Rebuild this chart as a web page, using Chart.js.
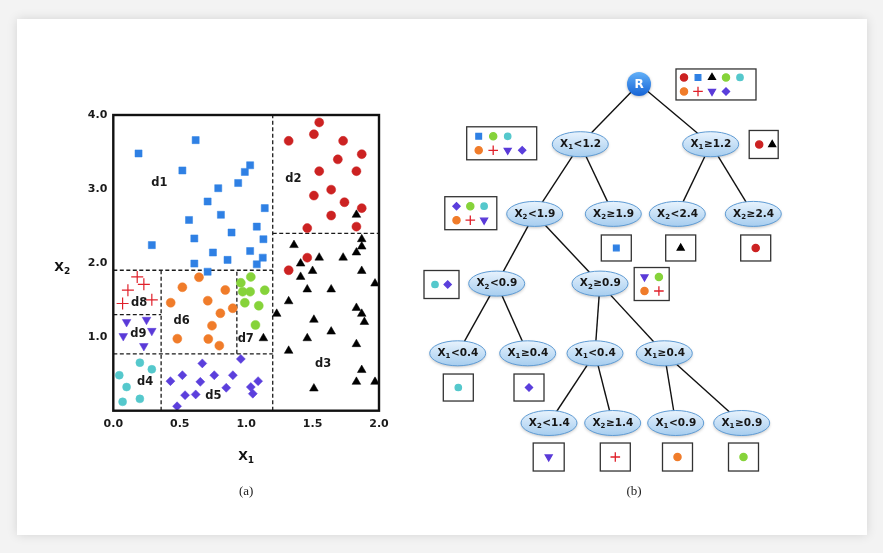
<!DOCTYPE html>
<html lang="en">
<head>
<meta charset="UTF-8">
<script src="https://cdn.jsdelivr.net/npm/chart.js"></script>
<title>Decision tree partition</title>
<style>
    body {
        margin: 0;
        background: #f3f3f3;
        width: 883px;
        height: 553px;
        overflow: hidden;
        position: relative;
    }
    .card {
        position: absolute;
        left: 17px; top: 19px;
        width: 850px; height: 516px;
        background: #fff;
        box-shadow: 0 0 10px rgba(0,0,0,0.13);
    }
    canvas {
        position: absolute;
        left: 0; top: 0;
    }
</style>
</head>
<body>
<div class="card"></div>
<canvas id="scatterChart" width="883" height="553"></canvas>
<canvas id="treeChart" width="883" height="553"></canvas>
<script>
    // ---- panel (a): points per class (x1, x2) ----
    const blueSquares = [[0.19,3.48],[0.62,3.66],[0.52,3.25],[1.03,3.32],[0.99,3.23],[0.94,3.08],[0.79,3.01],
        [1.14,2.74],[0.71,2.83],[0.81,2.65],[0.57,2.58],[1.08,2.49],[0.89,2.41],[0.61,2.33],[1.13,2.32],
        [0.29,2.24],[0.75,2.14],[1.03,2.16],[1.125,2.07],[0.86,2.04],[0.61,1.99],[1.08,1.98],[0.71,1.88]];
    const redCircles = [[1.55,3.90],[1.51,3.74],[1.32,3.65],[1.73,3.65],[1.87,3.47],[1.69,3.40],[1.55,3.24],
        [1.83,3.24],[1.64,2.99],[1.51,2.91],[1.74,2.82],[1.87,2.74],[1.64,2.64],[1.46,2.47],[1.83,2.49],
        [1.46,2.07],[1.32,1.90]];
    const blackTriangles = [[1.83,2.65],[1.87,2.32],[1.87,2.22],[1.83,2.14],[1.36,2.24],[1.55,2.07],[1.73,2.07],
        [1.41,1.99],[1.50,1.89],[1.41,1.81],[1.87,1.89],[1.46,1.64],[1.64,1.64],[1.97,1.72],[1.32,1.48],
        [1.23,1.31],[1.83,1.39],[1.87,1.31],[1.51,1.23],[1.89,1.20],[1.64,1.07],[1.46,0.98],[1.32,0.81],
        [1.83,0.90],[1.87,0.55],[1.83,0.39],[1.97,0.39],[1.51,0.30],[1.13,0.98]];
    const greenDots = [[1.035,1.81],[0.96,1.73],[0.974,1.61],[1.03,1.61],[1.14,1.63],[0.99,1.46],[1.095,1.42],[1.07,1.16]];
    const orangeDots = [[0.645,1.805],[0.52,1.67],[0.843,1.633],[0.432,1.461],[0.711,1.488],[0.899,1.386],
        [0.806,1.318],[0.743,1.15],[0.715,0.97],[0.482,0.974],[0.798,0.88]];
    const redCrosses = [[0.18,1.81],[0.23,1.71],[0.11,1.63],[0.07,1.45],[0.29,1.50]];
    const purpleTriangles = [[0.10,1.20],[0.25,1.23],[0.075,1.01],[0.29,1.08],[0.23,0.875]];
    const cyanDots = [[0.20,0.65],[0.29,0.56],[0.045,0.48],[0.10,0.32],[0.20,0.16],[0.07,0.12]];
    const purpleDiamonds = [[0.96,0.70],[0.67,0.64],[0.52,0.48],[0.76,0.48],[0.90,0.48],[0.43,0.40],[0.655,0.39],
        [1.09,0.40],[0.85,0.31],[1.035,0.32],[0.54,0.21],[0.62,0.22],[1.05,0.23],[0.48,0.06]];

    // split boundaries (dashed), as segments [[x1,y1],[x2,y2]]
    const splitLines = [
        [[1.2,0],[1.2,4]],
        [[1.2,2.4],[2,2.4]],
        [[0,1.9],[1.2,1.9]],
        [[0,0.77],[1.2,0.77]],
        [[0.36,0],[0.36,1.9]],
        [[0.93,0.77],[0.93,1.9]],
        [[0,1.3],[0.36,1.3]]
    ];
    const regionNames = ['d1','d2','d3','d4','d5','d6','d7','d8','d9'];
    const regionX = [0.346,1.355,1.58,0.24,0.753,0.515,0.997,0.194,0.188];
    const regionY = [3.08,3.135,0.63,0.385,0.2,1.218,0.97,1.453,1.038];
    const xTicks = [0, 0.5, 1.0, 1.5, 2.0];
    const yTicks = [1.0, 2.0, 3.0, 4.0];

    // ---- panel (b): tree nodes (position unit, depth) ----
    const nodeVar = [0,1,1,2,2,2,2,2,2,1,1,1,1,2,2,1,1];
    const nodeOp  = ['','<','≥','<','≥','<','≥','<','≥','<','≥','<','≥','<','≥','<','≥'];
    const nodeVal = [0,1.2,1.2,1.9,1.9,2.4,2.4,0.9,0.9,0.4,0.4,0.4,0.4,1.4,1.4,0.9,0.9];
    const nodeX = [23.9,18.03,31.07,13.47,21.33,27.73,35.33,9.67,20.0,5.77,12.77,19.5,26.43,14.9,21.27,27.57,34.17];
    const nodeDepth = [0.136,1,1,2,2,2,2,3,3,4,4,4,4,5,5,5,5];
    const nodeParent = [-1,0,0,1,1,2,2,3,3,7,7,8,8,11,11,12,12];

    // class boxes next to / under nodes
    const boxX = [31.6,10.17,36.37,7.08,21.63,28.07,35.57,4.15,25.17,5.83,12.9,14.87,21.53,27.75,34.35];
    const boxDepth = [0.143,0.987,1.004,1.99,2.489,2.489,2.489,3.013,3.006,4.491,4.491,5.488,5.488,5.488,5.488];
    const boxClasses = [
        [['red','blue','black','green','cyan'],['orange','cross','purple','diamond']],
        [['blue','green','cyan'],['orange','cross','purple','diamond']],
        [['red','black']],
        [['diamond','green','cyan'],['orange','cross','purple']],
        [['blue']],[['black']],[['red']],
        [['cyan','diamond']],
        [['purple','green'],['orange','cross']],
        [['cyan']],[['diamond']],
        [['purple']],[['cross']],[['orange']],[['green']]
    ];

    // styles
    const classStyle = {
        blue:    {pointStyle:'rect', color:'#2f80e4', radius:5, rotation:0},
        red:     {pointStyle:'circle', color:'#cc2222', radius:4.5, rotation:0},
        black:   {pointStyle:'triangle', color:'#000000', radius:5, rotation:0},
        green:   {pointStyle:'circle', color:'#86d33a', radius:4.5, rotation:0},
        cyan:    {pointStyle:'circle', color:'#55c8cc', radius:4, rotation:0},
        orange:  {pointStyle:'circle', color:'#f07c2a', radius:4.5, rotation:0},
        cross:   {pointStyle:'cross', color:'#e0202a', radius:6, rotation:0, borderWidth:1.2},
        purple:  {pointStyle:'triangle', color:'#5a3ad8', radius:5, rotation:180},
        diamond: {pointStyle:'rectRot', color:'#5b3fdc', radius:4.5, rotation:0}
    };
    const boxSpec = [
        {w:80,h:31,pad:8,dx:14},{w:70,h:33,pad:12,dx:14.5},{w:29,h:28,pad:10,dx:13},{w:52,h:33,pad:11.7,dx:13.8},
        {w:30,h:26},{w:30,h:26},{w:30,h:26},{w:35,h:28,pad:11,dx:12.7},{w:35,h:33,pad:10.3,dx:14.4},
        {w:30,h:27},{w:30,h:27},{w:31,h:28},{w:30,h:28},{w:30,h:28},{w:30,h:28}
    ];
    const FONT = 'DejaVu Sans';

    function toPts(arr) { return arr.map(p => ({x: p[0], y: p[1]})); }

    function classDataset(pts, key) {
        const s = classStyle[key];
        return {
            data: toPts(pts),
            pointStyle: s.pointStyle,
            rotation: s.rotation,
            pointRadius: s.radius,
            backgroundColor: s.color,
            borderColor: s.color,
            borderWidth: s.borderWidth || 0.5,
            order: 0
        };
    }

    function drawSubLabel(ctx, base, sub, rest, cx, cy, size, color) {
        ctx.save();
        const big = 'bold ' + size + 'px "' + FONT + '"';
        const small = 'bold ' + Math.round(size * 0.7) + 'px "' + FONT + '"';
        ctx.font = big;
        const wb = ctx.measureText(base).width, wr = ctx.measureText(rest).width;
        ctx.font = small;
        const ws = ctx.measureText(sub).width;
        let x = cx - (wb + ws + wr) / 2;
        ctx.fillStyle = color;
        ctx.textBaseline = 'middle';
        ctx.textAlign = 'left';
        ctx.font = big; ctx.fillText(base, x, cy); x += wb;
        ctx.font = small; ctx.fillText(sub, x, cy + size * 0.32); x += ws + 0.5;
        ctx.font = big; ctx.fillText(rest, x, cy);
        ctx.restore();
    }

    const panelAPlugin = {
        id: 'panelA',
        afterDatasetsDraw(chart) {
            const ctx = chart.ctx, a = chart.chartArea;
            const xs = chart.scales.x, ys = chart.scales.y;
            ctx.save();
            ctx.strokeStyle = '#111';
            ctx.lineWidth = 2.4;
            ctx.strokeRect(a.left, a.top, a.right - a.left, a.bottom - a.top);
            ctx.fillStyle = '#1a1a1a';
            ctx.font = 'bold 11.5px "' + FONT + '"';
            ctx.textAlign = 'center';
            ctx.textBaseline = 'middle';
            regionNames.forEach((n, i) => {
                ctx.fillText(n, xs.getPixelForValue(regionX[i]), ys.getPixelForValue(regionY[i]));
            });
            ctx.restore();
        },
        afterDraw(chart) {
            const ctx = chart.ctx, a = chart.chartArea;
            drawSubLabel(ctx, 'X', '1', '', (a.left + a.right) / 2, a.bottom + 46, 12.5, '#111');
            drawSubLabel(ctx, 'X', '2', '', a.left - 51, (a.top + a.bottom) / 2 + 5, 12.5, '#111');
            ctx.save();
            ctx.fillStyle = '#222';
            ctx.font = '13px "Liberation Serif"';
            ctx.textAlign = 'center';
            ctx.textBaseline = 'middle';
            ctx.fillText('(a)', (a.left + a.right) / 2, 492);
            ctx.fillText('(b)', 634, 492);
            ctx.restore();
        }
    };

    const datasetsA = [
        classDataset(blueSquares, 'blue'),
        classDataset(redCircles, 'red'),
        classDataset(blackTriangles, 'black'),
        classDataset(greenDots, 'green'),
        classDataset(orangeDots, 'orange'),
        classDataset(redCrosses, 'cross'),
        classDataset(purpleTriangles, 'purple'),
        classDataset(cyanDots, 'cyan'),
        classDataset(purpleDiamonds, 'diamond')
    ];
    splitLines.forEach(seg => {
        datasetsA.push({
            data: toPts(seg),
            showLine: true,
            pointRadius: 0,
            borderColor: '#1a1a1a',
            borderWidth: 1.3,
            borderDash: [4, 2.5],
            order: 1
        });
    });

    const tickFont = {family: FONT, size: 11, weight: 'bold'};
    new Chart(document.getElementById('scatterChart'), {
        type: 'scatter',
        data: {datasets: datasetsA},
        options: {
            responsive: false,
            animation: false,
            events: [],
            layout: {padding: {left: 20, top: 115, right: 504, bottom: 82.3}},
            plugins: {legend: {display: false}, tooltip: {enabled: false}},
            scales: {
                x: {
                    type: 'linear', min: 0, max: 2,
                    grid: {display: false, drawTicks: false},
                    border: {display: false},
                    afterBuildTicks: s => { s.ticks = xTicks.map(v => ({value: v})); },
                    ticks: {callback: v => v.toFixed(1), font: tickFont, color: '#1a1a1a', padding: 7, maxRotation: 0},
                    afterFit: s => { s.height = 60; }
                },
                y: {
                    type: 'linear', min: 0, max: 4,
                    grid: {display: false, drawTicks: false},
                    border: {display: false},
                    afterBuildTicks: s => { s.ticks = yTicks.map(v => ({value: v})); },
                    ticks: {callback: v => v.toFixed(1), font: tickFont, color: '#1a1a1a', padding: 6},
                    afterFit: s => { s.width = 93.3; }
                }
            }
        },
        plugins: [panelAPlugin]
    });

    // ---- panel (b) ----
    const treePlugin = {
        id: 'tree',
        afterDatasetsDraw(chart) {
            const ctx = chart.ctx;
            const xs = chart.scales.x, ys = chart.scales.y;
            const H = Chart.helpers;
            // class boxes
            boxX.forEach((bx, i) => {
                const cx = xs.getPixelForValue(bx), cy = ys.getPixelForValue(boxDepth[i]);
                const sp = boxSpec[i], rows = boxClasses[i];
                const left = cx - sp.w / 2, top = cy - sp.h / 2;
                ctx.save();
                ctx.strokeStyle = '#333';
                ctx.lineWidth = 1.3;
                ctx.strokeRect(left, top, sp.w, sp.h);
                rows.forEach((row, r) => {
                    const ry = rows.length === 1 ? cy : cy + (r === 0 ? -7 : 7);
                    row.forEach((key, c) => {
                        const s = classStyle[key];
                        const px = sp.pad !== undefined ? left + sp.pad + c * sp.dx : cx;
                        ctx.fillStyle = s.color;
                        ctx.strokeStyle = s.color;
                        H.drawPoint(ctx, {
                            pointStyle: s.pointStyle,
                            rotation: s.rotation,
                            radius: s.radius * 0.8,
                            borderWidth: s.borderWidth || 0.5
                        }, px, ry);
                    });
                });
                ctx.restore();
            });
            // nodes
            nodeX.forEach((nx, i) => {
                const cx = xs.getPixelForValue(nx), cy = ys.getPixelForValue(nodeDepth[i]);
                ctx.save();
                if (nodeParent[i] < 0) {
                    const g = ctx.createLinearGradient(cx, cy - 12, cx, cy + 12);
                    g.addColorStop(0, '#62b0f8');
                    g.addColorStop(1, '#1664d6');
                    ctx.shadowColor = 'rgba(0,0,0,0.25)';
                    ctx.shadowBlur = 3;
                    ctx.shadowOffsetY = 1;
                    ctx.beginPath();
                    ctx.arc(cx, cy, 12, 0, Math.PI * 2);
                    ctx.fillStyle = g;
                    ctx.fill();
                    ctx.shadowColor = 'transparent';
                    ctx.fillStyle = '#fff';
                    ctx.font = 'bold 12px "' + FONT + '"';
                    ctx.textAlign = 'center';
                    ctx.textBaseline = 'middle';
                    ctx.fillText('R', cx, cy + 0.5);
                } else {
                    const rx = 28, ry = 12.5;
                    const g = ctx.createLinearGradient(cx, cy - ry, cx, cy + ry);
                    g.addColorStop(0, '#e8f3fd');
                    g.addColorStop(1, '#a6cdef');
                    ctx.shadowColor = 'rgba(0,0,0,0.22)';
                    ctx.shadowBlur = 3;
                    ctx.shadowOffsetY = 1.5;
                    ctx.beginPath();
                    ctx.ellipse(cx, cy, rx, ry, 0, 0, Math.PI * 2);
                    ctx.fillStyle = g;
                    ctx.fill();
                    ctx.shadowColor = 'transparent';
                    ctx.strokeStyle = '#5e9bd4';
                    ctx.lineWidth = 1;
                    ctx.stroke();
                    drawSubLabel(ctx, 'X', String(nodeVar[i]), nodeOp[i] + nodeVal[i].toFixed(1), cx, cy, 10.5, '#151515');
                }
                ctx.restore();
            });
        }
    };

    const edgeSets = [];
    nodeParent.forEach((p, i) => {
        if (p < 0) return;
        edgeSets.push({
            data: [{x: nodeX[p], y: nodeDepth[p]}, {x: nodeX[i], y: nodeDepth[i]}],
            showLine: true,
            pointRadius: 0,
            borderColor: '#111',
            borderWidth: 1.4
        });
    });

    new Chart(document.getElementById('treeChart'), {
        type: 'scatter',
        data: {datasets: edgeSets},
        options: {
            responsive: false,
            animation: false,
            events: [],
            layout: {padding: {left: 400, right: 63, top: 74.5, bottom: 60.3}},
            plugins: {legend: {display: false}, tooltip: {enabled: false}},
            scales: {
                x: {type: 'linear', display: false, min: 0, max: 42},
                y: {type: 'linear', display: false, min: 0, max: 6, reverse: true}
            }
        },
        plugins: [treePlugin]
    });
</script>
</body>
</html>
